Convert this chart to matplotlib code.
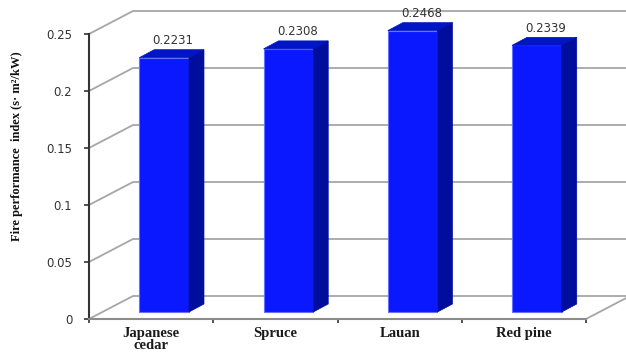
import numpy as np
import matplotlib.pyplot as plt
from matplotlib.patches import Polygon
from matplotlib.transforms import Affine2D

# wood species and their fire performance index
species = ['Japanese\ncedar', 'Spruce', 'Lauan', 'Red pine']
fpi = [0.2231, 0.2308, 0.2468, 0.2339]
yticks = [0, 0.05, 0.1, 0.15, 0.2, 0.25]
ytick_labels = ['0', '0.05', '0.1', '0.15', '0.2', '0.25']

W, H = 626, 358
fig = plt.figure(figsize=(W / 100, H / 100), dpi=100)
fig.patch.set_facecolor('white')
ax = fig.add_axes([89 / W, 39 / H, 497 / W, 285 / H])
n = len(species)
ax.set_xlim(0, n)
ax.set_ylim(0, 0.25)
ax.patch.set_visible(False)

# pixel offsets for the fake 3D (oblique) look
WALL = (44, 23)        # depth of the floor / back wall
BAR_FRONT = (13, 7)    # bar front face sits a bit back from the axis
BAR_DEPTH = (15, 8)    # thickness of each bar


def shift(x, y, off):
    """data point moved by a pixel offset, returned in data coords"""
    px = ax.transData.transform((x, y))
    return ax.transData.inverted().transform(px + np.asarray(off, float))


# side wall diagonals + back wall gridlines
grid_kw = dict(color='#a6a6a6', lw=1.3, clip_on=False, zorder=1)
for v in yticks:
    pb = shift(0, v, WALL)
    pr = shift(n, v, WALL)
    ax.plot([0, pb[0], pr[0]], [v, pb[1], pr[1]], **grid_kw)
fr = shift(n, 0, WALL)
ax.plot([n, fr[0]], [0, fr[1]], **grid_kw)

# bars: front face through ax.bar, top and side as polygons
half = 0.2
front_col = '#0a18ff'
top_col = '#0016c4'
side_col = '#000e9e'
edge_col = '#6472ff'
x = np.arange(n) + 0.5
front_tr = Affine2D().translate(*BAR_FRONT)
ax.bar(x, fpi, width=2 * half, color=front_col, edgecolor=edge_col, lw=0.8,
       transform=ax.transData + front_tr, zorder=3, clip_on=False)

back = (BAR_FRONT[0] + BAR_DEPTH[0], BAR_FRONT[1] + BAR_DEPTH[1])
for c, v in zip(x, fpi):
    tl = shift(c - half, v, BAR_FRONT)
    tr = shift(c + half, v, BAR_FRONT)
    br = shift(c + half, 0, BAR_FRONT)
    btl = shift(c - half, v, back)
    btr = shift(c + half, v, back)
    bbr = shift(c + half, 0, back)
    ax.add_patch(Polygon([tl, tr, btr, btl], closed=True, facecolor=top_col,
                         edgecolor=top_col, lw=0.5, zorder=3, clip_on=False))
    ax.add_patch(Polygon([br, bbr, btr, tr], closed=True, facecolor=side_col,
                         edgecolor=side_col, lw=0.5, zorder=3, clip_on=False))
    ax.annotate(f'{v:.4f}', xy=(c, v), xytext=(22, 20.5), textcoords='offset pixels',
                ha='center', va='baseline', fontsize=8.5, color='#333333',
                family='DejaVu Sans', annotation_clip=False)

# axes styling
for s in ['top', 'right']:
    ax.spines[s].set_visible(False)
ax.spines['left'].set_color('#333333')
ax.spines['left'].set_linewidth(1.5)
ax.spines['bottom'].set_color('#8c8c8c')
ax.spines['bottom'].set_linewidth(1.5)

ax.set_yticks(yticks, ytick_labels)
ax.tick_params(axis='y', length=3.6, width=1.2, color='#333333', pad=8.5,
               labelsize=8.5, labelcolor='#333333')
ax.set_xticks(range(n + 1), [''] * (n + 1))
ax.set_xticks(x, species, minor=True)
ax.tick_params(axis='x', which='major', length=3, width=1.2, color='#333333')
ax.tick_params(axis='x', which='minor', length=0, pad=5.5)
for lab in ax.get_xticklabels(minor=True):
    lab.set_fontfamily('Liberation Serif')
    lab.set_fontweight('bold')
    lab.set_fontsize(10.5)
    lab.set_color('#1a1a1a')
    lab.set_linespacing(0.95)

fig.text(17 / W, 1 - 146 / H, 'Fire performance  index (s· m²/kW)', rotation=90,
         ha='center', va='center', family='Liberation Serif', weight='bold',
         fontsize=9, color='#111111')

fig.savefig('out.png', dpi=100)
